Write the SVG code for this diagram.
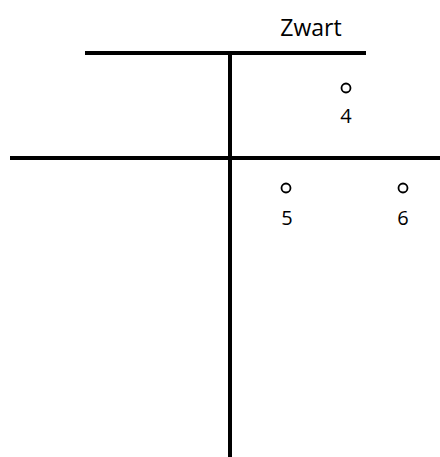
<svg xmlns="http://www.w3.org/2000/svg" width="440" height="457" viewBox="0 0 440 457">
<style>
.ln{stroke:#000;stroke-width:4;fill:none}
.pt{stroke:#000;stroke-width:1.8;fill:#fff}
text{font-family:"Open Sans","Noto Sans",sans-serif;fill:#000;text-anchor:middle}
.num{font-size:20px}
</style>
<rect width="440" height="457" fill="#fff"/>
<g id="connectors">
<line class="ln" x1="85" y1="53" x2="366" y2="53"/>
<line class="ln" x1="230" y1="53" x2="230" y2="457"/>
<line class="ln" x1="10" y1="158" x2="440" y2="158"/>
</g>
<g id="title"><text x="311" y="36" font-size="23">Zwart</text></g>
<g id="n4"><circle class="pt" cx="346" cy="88" r="4.5"/><text class="num" x="346" y="123">4</text></g>
<g id="n5"><circle class="pt" cx="286" cy="188" r="4.5"/><text class="num" x="287" y="225">5</text></g>
<g id="n6"><circle class="pt" cx="403" cy="188" r="4.5"/><text class="num" x="403" y="225">6</text></g>
</svg>
